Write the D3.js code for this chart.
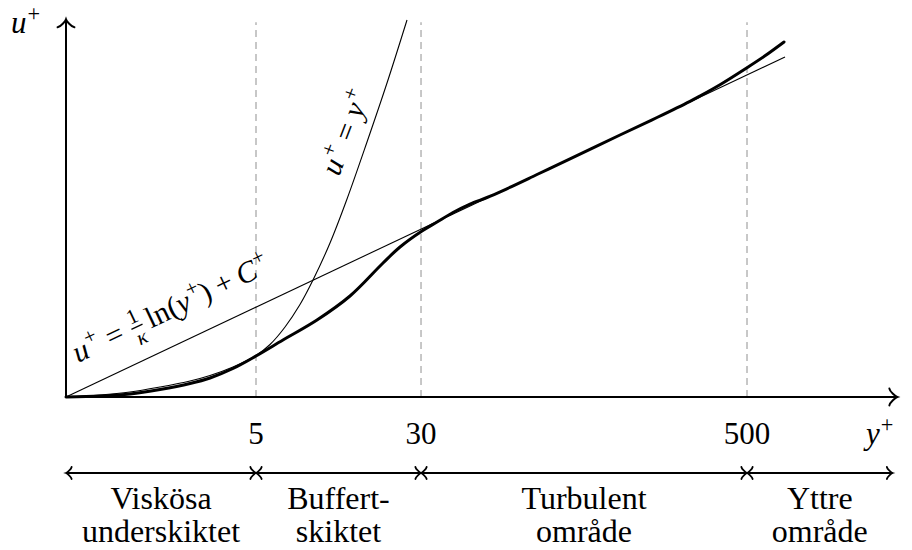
<!DOCTYPE html>
<html>
<head>
<meta charset="utf-8">
<script src="https://cdn.jsdelivr.net/npm/d3@7"></script>
<style>
  body { margin: 0; background: #fff; }
  svg { display: block; }
</style>
</head>
<body>
<svg id="chart" width="912" height="550"></svg>
<script>
// Schematic wall coordinates: x = position along the (stretched) y+ axis, y = u+
// u+ = y+ (viscous sublayer law)
const linearLaw = [
  [0, 0], [0.716, 0.042], [1.347, 0.105], [1.979, 0.211], [2.611, 0.337],
  [3.032, 0.453], [3.516, 0.632], [4.0, 0.874], [4.295, 1.105], [4.611, 1.474],
  [4.926, 1.947], [5.2, 2.463], [5.558, 3.242], [5.916, 4.168], [6.337, 5.368],
  [6.758, 6.610], [7.179, 7.937]
];
// u+ = (1/kappa) ln(y+) + C+ (log law)
const logLaw = [[0, 0], [15.137, 7.158]];
// Mean velocity profile
const meanProfile = [
  [0, 0], [0.716, 0.021], [1.347, 0.063], [1.979, 0.158], [2.611, 0.284],
  [3.032, 0.400], [3.516, 0.600], [4.0, 0.863], [4.568, 1.2], [5.284, 1.621],
  [5.979, 2.126], [6.674, 2.821], [7.032, 3.158], [7.495, 3.495], [7.811, 3.684],
  [8.147, 3.884], [8.505, 4.063], [8.863, 4.2], [9.2, 4.347], [9.916, 4.684],
  [10.611, 5.015], [11.663, 5.516], [12.442, 5.884], [13.137, 6.225],
  [13.347, 6.337], [13.768, 6.575], [14.337, 6.933], [14.716, 7.183], [15.116, 7.474]
];
// Region boundaries on the y+ axis and their labels
const boundaryPos = [4.0, 7.474, 14.337];
const boundaryLabels = ["5", "30", "500"];
const regionEdges = [0, 4.0, 7.474, 14.337, 17.4];
const regionNames = [
  ["Viskösa", "underskiktet"],
  ["Buffert-", "skiktet"],
  ["Turbulent", "område"],
  ["Yttre", "område"]
];
const xMax = 17.5, yMax = 7.95, dashTop = 7.89;

const FONT = '"Liberation Serif"';
const svg = d3.select("#chart");

// make sure the serif face (upright and italic) is resolved before layout
["normal", "italic"].forEach(st => {
  const probe = svg.append("text").attr("font-size", 20).attr("font-style", st)
    .attr("font-family", '"Liberation Serif", monospace').text("Viskösa u+ 500 κ");
  probe.node().getComputedTextLength();
  probe.remove();
});

const unit = 47.5;
const x = d3.scaleLinear().domain([0, xMax]).range([66, 66 + xMax * unit]);
const y = d3.scaleLinear().domain([0, yMax]).range([397, 397 - yMax * unit]);

const F = 31;   // label font size
const FM = 30;  // math label font size

// serif text element with the given size
function addText(parent, size) {
  return parent.append("text")
    .attr("font-size", size)
    .attr("font-family", FONT);
}

// TikZ-like "to" arrow tip pointing along +x in local frame
function tip(g, px, py, angle, d, sw) {
  g.append("path")
    .attr("d", `M${-3.75*d},${-4*d} C${-3.5*d},${-2.5*d} ${-0.75*d},${-0.25*d} 0,0 ` +
               `C${-0.75*d},${0.25*d} ${-3.5*d},${2.5*d} ${-3.75*d},${4*d}`)
    .attr("transform", `translate(${px},${py}) rotate(${angle})`)
    .attr("fill", "none").attr("stroke", "#000")
    .attr("stroke-width", sw).attr("stroke-linecap", "round");
}

// Small inline math typesetter: parts laid out left to right on a baseline
function mathText(parent, size, parts) {
  let cx = 0;
  parts.forEach(p => {
    cx += (p.gap || 0) * size;
    if (p.frac) {
      const fs = size * 0.7;
      const num = addText(parent, fs).text(p.frac[0]);
      const den = addText(parent, fs).attr("font-style", "italic").text(p.frac[1]);
      const w = Math.max(num.node().getComputedTextLength(),
                         den.node().getComputedTextLength()) + 0.12 * size;
      num.attr("x", cx + w / 2).attr("y", -0.40 * size).attr("text-anchor", "middle");
      den.attr("x", cx + w / 2).attr("y", 0.36 * size).attr("text-anchor", "middle");
      parent.append("line")
        .attr("x1", cx + 0.03 * size).attr("x2", cx + w - 0.03 * size)
        .attr("y1", -0.25 * size).attr("y2", -0.25 * size)
        .attr("stroke", "#000").attr("stroke-width", 0.045 * size);
      cx += w;
    } else {
      const fs = p.sup ? size * 0.72 : size;
      const t = addText(parent, fs)
        .attr("x", cx + (p.sup ? 0.03 * size : 0))
        .attr("y", p.sup ? -0.40 * size : 0);
      if (p.it) t.attr("font-style", "italic");
      t.text(p.t);
      cx += t.node().getComputedTextLength() + (p.sup ? 0.03 * size : 0);
    }
  });
  return cx;
}

function rotatedLabel(anchor, angle, size, parts) {
  const g = svg.append("g")
    .attr("transform", `translate(${anchor[0]},${anchor[1]}) rotate(${angle})`);
  mathText(g, size, parts);
  return g;
}

// Dashed boundary lines
svg.append("g").selectAll("line")
  .data(boundaryPos).join("line")
  .attr("x1", d => x(d)).attr("x2", d => x(d))
  .attr("y1", y(0)).attr("y2", y(dashTop))
  .attr("stroke", "#9a9a9a").attr("stroke-width", 1.1)
  .attr("stroke-dasharray", "7,5");

const line = d3.line().x(d => x(d[0])).y(d => y(d[1])).curve(d3.curveCatmullRom.alpha(0.5));

svg.append("path").datum(logLaw).attr("d", line)
  .attr("fill", "none").attr("stroke", "#000").attr("stroke-width", 1.1);
svg.append("path").datum(linearLaw).attr("d", line)
  .attr("fill", "none").attr("stroke", "#000").attr("stroke-width", 1.1);
svg.append("path").datum(meanProfile).attr("d", line)
  .attr("fill", "none").attr("stroke", "#000").attr("stroke-width", 3)
  .attr("stroke-linejoin", "round").attr("stroke-linecap", "round");

// Axes with arrow tips
const axes = svg.append("g");
axes.append("line").attr("x1", x(0)).attr("x2", x(xMax)).attr("y1", y(0)).attr("y2", y(0))
  .attr("stroke", "#000").attr("stroke-width", 2);
axes.append("line").attr("x1", x(0)).attr("x2", x(0)).attr("y1", y(0)).attr("y2", y(yMax))
  .attr("stroke", "#000").attr("stroke-width", 2);
tip(axes, x(xMax), y(0), 0, 2.1, 2);
tip(axes, x(0), y(yMax), -90, 2.1, 2);

// Tick labels at the region boundaries on the y+ axis
boundaryPos.forEach((p, i) => {
  addText(svg, F).attr("x", x(p)).attr("y", y(0) + 47)
    .attr("text-anchor", "middle").text(boundaryLabels[i]);
});

// Axis titles
const uLab = svg.append("g").attr("transform", `translate(${x(0) - 55},33)`);
mathText(uLab, F, [{ t: "u", it: 1 }, { t: "+", sup: 1 }]);
const yLab = svg.append("g").attr("transform", `translate(${x(0) + 800},444)`);
mathText(yLab, F, [{ t: "y", it: 1 }, { t: "+", sup: 1 }]);

// Region arrows and names
const regions = svg.append("g");
regionNames.forEach((names, i) => {
  const a = x(regionEdges[i]), b = x(regionEdges[i + 1]), ry = 473;
  regions.append("line").attr("x1", a).attr("x2", b).attr("y1", ry).attr("y2", ry)
    .attr("stroke", "#000").attr("stroke-width", 1.8);
  tip(regions, a, ry, 180, 1.5, 1.8);
  tip(regions, b, ry, 0, 1.5, 1.8);
  const cxm = (a + b) / 2;
  addText(svg, F + 1).attr("x", cxm).attr("y", 509)
    .attr("text-anchor", "middle").text(names[0]);
  addText(svg, F + 1).attr("x", cxm).attr("y", 542)
    .attr("text-anchor", "middle").text(names[1]);
});

// Curve labels
rotatedLabel([x(0.253), y(0.716)], -25.3, FM, [
  { t: "u", it: 1 }, { t: "+", sup: 1 },
  { t: "=", gap: 0.278 },
  { frac: ["1", "κ"], gap: 0.278 },
  { t: "ln", gap: 0.167 }, { t: "(" }, { t: "y", it: 1 }, { t: "+", sup: 1 }, { t: ")" },
  { t: "+", gap: 0.222 },
  { t: "C", it: 1, gap: 0.222 }, { t: "+", sup: 1 }
]);
rotatedLabel([x(5.747), y(4.632)], -69, FM, [
  { t: "u", it: 1 }, { t: "+", sup: 1 },
  { t: "=", gap: 0.278 },
  { t: "y", it: 1, gap: 0.278 }, { t: "+", sup: 1 }
]);
</script>
</body>
</html>
